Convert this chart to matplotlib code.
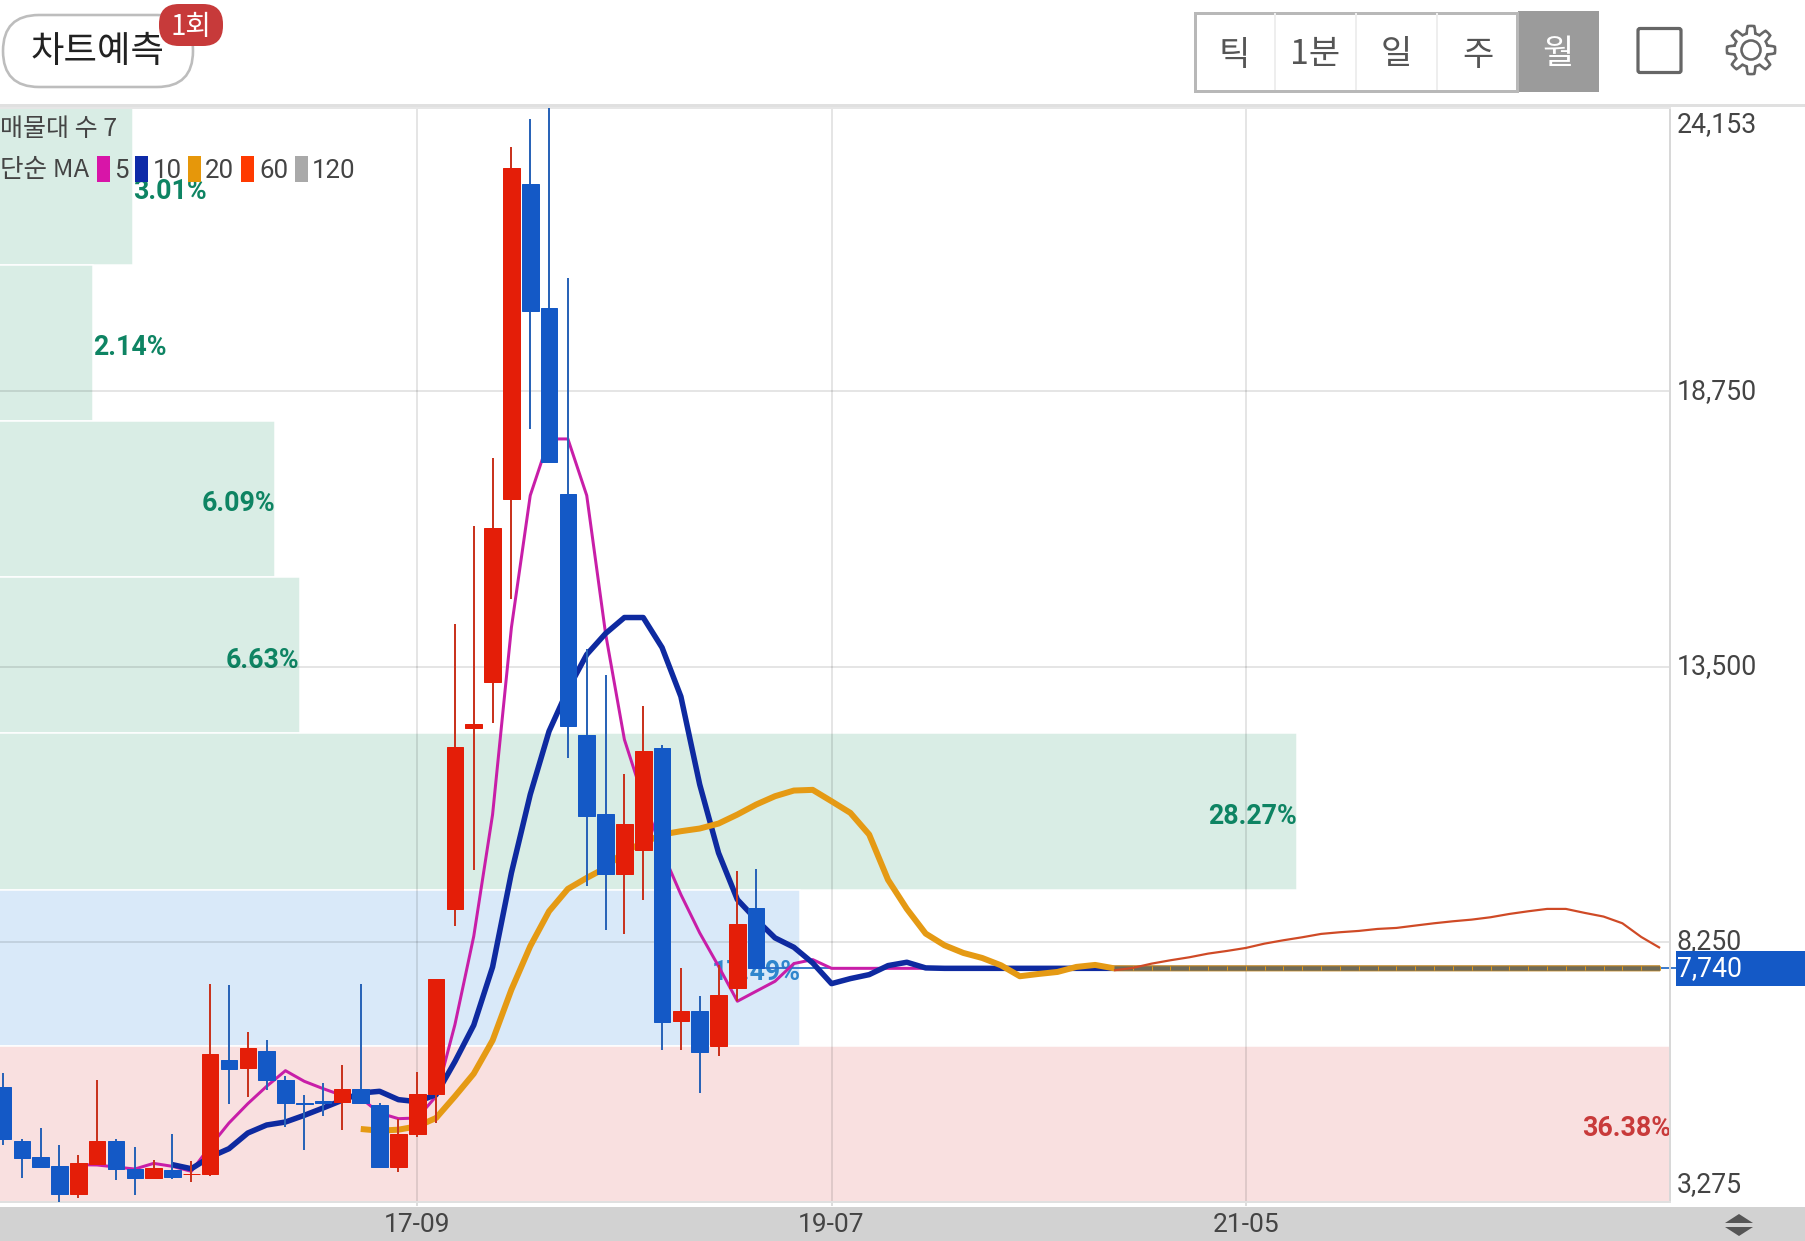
import numpy as np
import matplotlib
matplotlib.use("Agg")
import matplotlib.pyplot as plt
from matplotlib.patches import Rectangle, FancyBboxPatch, Polygon, Circle

KR = ['Noto Sans CJK KR', 'DejaVu Sans']
plt.rcParams['font.family'] = ['Roboto', 'Noto Sans CJK KR', 'DejaVu Sans']

# ---------- data ----------
HIGH = [5743, 4489, 4693, 4368, 4171, 5609, 4489, 4330, 4082, 4585, 4056, 7448, 7416, 6532, 6379, 5679, 5323, 5558, 5902, 7442,
        5164, 4871, 5755, 7537, 14302, 16191, 17470, 23411, 23944, 24153, 20905, 13840, 13343, 11445, 12743, 11998, 7748, 7220, 7812, 9600, 9638]
LOW = [4375, 3745, 3948, 3274, 3363, 4012, 3700, 3407, 3713, 3713, 3662, 3770, 5157, 5285, 5425, 4712, 4273, 4922, 4661, 5176,
       3936, 3853, 4515, 4788, 8543, 9625, 12431, 14790, 18026, 17406, 11757, 9320, 8467, 8403, 9040, 6189, 6189, 5362, 6075, 7112, 7742]
OPEN = [5482, 4445, 4146, 3974, 3439, 4012, 4438, 3917, 3738, 3897, 3808, 3815, 5991, 5832, 6163, 5615, 5176, 5202, 5195, 5437,
        5138, 3955, 4578, 5342, 8874, 12329, 13213, 16690, 22716, 20342, 16799, 12196, 10694, 9549, 10007, 11948, 6730, 6934, 6259, 7360, 8887]
CLOSE = [4483, 4120, 3948, 3439, 4025, 4438, 3917, 3738, 3923, 3757, 3821, 6112, 5825, 6220, 5615, 5176, 5157, 5176, 5437, 5176,
         3955, 4585, 5335, 7537, 11960, 12412, 16142, 23008, 20290, 17406, 12360, 10656, 9549, 10497, 11897, 6711, 6927, 6151, 7226, 8588, 7742]

MA5_START = 4
MA5 = [3993, 3987, 3948, 3910, 4018, 3961, 3866, 4343, 4788, 5157, 5488, 5787, 5584, 5444, 5316, 5265, 4979, 4871, 4884, 5297,
       6666, 8352, 10675, 14244, 16764, 17843, 17843, 16764, 14130, 12107, 10993, 9975, 9148, 8416, 7780, 7112, 7303, 7493, 7831, 7907, 7740,
       7740, 7740, 7740, 7740, 7740, 7740, 7740, 7740, 7740, 7740, 7740, 7740, 7740, 7740, 7740, 7740, 7740, 7740, 7740, 7740, 7740, 7740,
       7740, 7740, 7740, 7740, 7740, 7740, 7740, 7740, 7740, 7740, 7740, 7740, 7740, 7740, 7740, 7740, 7740, 7740, 7740, 7740, 7740, 7740]
MA10_START = 9
MA10 = [3993, 3916, 4139, 4298, 4597, 4750, 4807, 4935, 5075, 5221, 5361, 5393, 5234, 5195, 5329,
        5960, 6655, 7765, 9561, 11057, 12266, 13061, 13729, 14130, 14435, 14435, 13862, 12927, 11248, 9943, 9052, 8671, 8321, 8142, 7843,
        7448, 7544, 7620, 7792, 7856, 7748,
        7740, 7740, 7740, 7740, 7740, 7740, 7740, 7740, 7740, 7740, 7740, 7740, 7740, 7740, 7740, 7740, 7740, 7740, 7740, 7740,
        7740, 7740, 7740, 7740, 7740, 7740, 7740, 7740, 7740, 7740, 7740, 7740, 7740, 7740, 7740, 7740, 7740, 7740, 7740]
MA20_START = 19
MA20 = [4674, 4642, 4661, 4725, 4884, 5297, 5730, 6365, 7334, 8162, 8830, 9256, 9466, 9657, 9975, 10134, 10293, 10357, 10408, 10503,
        10675, 10866, 11025, 11133, 11146, 10929, 10707, 10293, 9430, 8874, 8403, 8180, 8034, 7938, 7798, 7589, 7633, 7671, 7767, 7805, 7741,
        7740, 7740, 7740, 7740, 7740, 7740, 7740, 7740, 7740, 7740, 7740, 7740, 7740, 7740, 7740,
        7740, 7740, 7740, 7740, 7740, 7740, 7740, 7740, 7740, 7740, 7740, 7740, 7740, 7740]
MA60_START = 59
MA60 = [7703, 7748, 7830, 7894, 7951, 8021, 8072, 8129, 8212, 8276, 8333, 8397, 8429, 8454, 8492,
        8511, 8556, 8600, 8638, 8670, 8715, 8778, 8829, 8874, 8874, 8798, 8728, 8600, 8339, 8129]
MA120_START = 59
MA120 = [7740, 7740, 7740, 7740, 7740, 7740, 7740, 7740, 7740, 7740, 7740, 7740, 7740, 7740, 7740,
         7740, 7740, 7740, 7740, 7740, 7740, 7740, 7740, 7740, 7740, 7740, 7740, 7740, 7740, 7740]
LAST_PRICE = 7740

VP_PCT = [3.01, 2.14, 6.09, 6.63, 28.27, 17.49, 36.38]
VP_KIND = ['g', 'g', 'g', 'g', 'g', 'b', 'r']
YTICKS = [18750, 13500, 8250]
YLABELS = [(24153, '24,153', -16), (18750, '18,750', 0), (13500, '13,500', 0), (8250, '8,250', 0), (3275, '3,275', 18)]
XTICKS = [22, 44, 66]
XLABELS = ['17-09', '19-07', '21-05']
BUTTONS = ['틱', '1분', '일', '주', '월']
MA_LEGEND = ['5', '10', '20', '60', '120']

# ---------- style ----------
W, H = 1806, 1241
PX = 0.72
RED, BLUE = '#e41e08', '#1459c6'
RED_W, BLUE_W = '#c9341f', '#2a64b8'
C_MA5, C_MA10, C_MA20, C_MA60, C_MA120 = '#c81ea8', '#0e2aa0', '#e59a14', '#cf4a26', '#6e6a58'
VP_FILL = {'g': '#d9ede5', 'b': '#d9e9f9', 'r': '#f9e0e0'}
VP_TEXT = {'g': '#0e8463', 'b': '#2f86cd', 'r': '#c83a3a'}
TXT = '#444444'

fig = plt.figure(figsize=(W / 100, H / 100), dpi=100, facecolor='white')
rect = [0, (H - 1202.3) / H, 1670 / W, (1202.3 - 108.3) / H]


def overlay(z):
    a = fig.add_axes([0, 0, 1, 1], zorder=z)
    a.set_xlim(0, W)
    a.set_ylim(H, 0)
    a.axis('off')
    a.patch.set_alpha(0)
    return a


bg = overlay(-1)
bg.add_patch(Rectangle((0, 1207), W, H - 1207, fc='#d2d2d2', ec='none'))
bg.add_patch(Rectangle((0, 104), W, 3, fc='#e0e0e0', ec='none'))

# volume profile
ax_vp = fig.add_axes(rect, zorder=0)
ax_vp.set_xlim(0.13, 36.356)
ax_vp.set_ylim(3275, 24153)
ax_vp.axis('off')
edges = np.linspace(24153, 3275, len(VP_PCT) + 1)
for i, (p, k) in enumerate(zip(VP_PCT, VP_KIND)):
    top, bot = edges[i], edges[i + 1]
    ax_vp.barh((top + bot) / 2, p, height=top - bot, left=0, color=VP_FILL[k], edgecolor='white', linewidth=1.5 * PX, zorder=1)
    inside = p > 5
    ax_vp.text(p, (top + bot) / 2 - 90, f'{p:.2f}%', ha='right' if inside else 'left', va='center',
               color=VP_TEXT[k], fontsize=19.3, fontweight='bold', family='Roboto', zorder=2)

# main chart
ax = fig.add_axes(rect, zorder=1)
ax.patch.set_alpha(0)
ax.set_xlim((0 - 3) / 18.83, (1670 - 3) / 18.83)
ax.set_ylim(3275, 24153)
ax.set_yticks(YTICKS)
ax.set_xticks(XTICKS)
ax.set_xticklabels(XLABELS, fontsize=19, color=TXT, family='Roboto')
ax.set_yticklabels([])
ax.tick_params(axis='y', length=0)
ax.tick_params(axis='x', length=3, width=2 * PX, color='#dddddd', pad=4.5)
ax.grid(True, color='black', alpha=0.1, linewidth=2 * PX, zorder=0)
ax.set_axisbelow(True)
for s, c in (('top', '#e6e6e6'), ('bottom', '#e0e0e0'), ('right', '#d8d8d8')):
    ax.spines[s].set_color(c)
    ax.spines[s].set_linewidth(2 * PX)
ax.spines['left'].set_visible(False)

# current price line
ax.plot([len(OPEN) - 1, 88.9], [LAST_PRICE, LAST_PRICE], color='#2a6fc8', lw=1.8 * PX, zorder=2, clip_on=False)


def line(start, vals, color, lw, z):
    xs = start + np.arange(len(vals))
    ax.plot(xs, vals, color=color, lw=lw * PX, zorder=z, solid_joinstyle='round', solid_capstyle='butt')


line(MA5_START, MA5, C_MA5, 3, 3)
line(MA10_START, MA10, C_MA10, 5.5, 3.1)
line(MA20_START, MA20, C_MA20, 6, 3.2)
line(MA120_START, MA120, C_MA120, 4.5, 3.3)
ax.plot(MA120_START + np.arange(1, len(MA120)), MA120[1:], ls='none', marker='|', ms=4 * PX, mew=1 * PX,
        color=C_MA20, zorder=3.35)
line(MA60_START, MA60, C_MA60, 2.2, 3.4)

# candles
xs = np.arange(len(OPEN))
o, c, h, l = map(np.array, (OPEN, CLOSE, HIGH, LOW))
up = c >= o
ax.vlines(xs[up], l[up], h[up], color=RED_W, lw=2 * PX, zorder=4)
ax.vlines(xs[~up], l[~up], h[~up], color=BLUE_W, lw=2 * PX, zorder=4)
ax.bar(xs[up], (c - o)[up], bottom=o[up], width=0.88, color=RED, edgecolor=RED, linewidth=1 * PX, zorder=4.1)
ax.bar(xs[~up], (o - c)[~up], bottom=c[~up], width=0.88, color=BLUE, edgecolor=BLUE, linewidth=1 * PX, zorder=4.1)

# y labels
for val, lab, off in YLABELS:
    ax.annotate(lab, xy=(1, val), xycoords=('axes fraction', 'data'), xytext=(7 * PX, off * PX),
                textcoords='offset points', ha='left', va='center', fontsize=19.2, color=TXT,
                family='Roboto', annotation_clip=False)

# ---------- chrome ----------
fr = overlay(5)
fr.add_patch(Rectangle((1676, 951), W - 1676, 35, fc=BLUE, ec='none'))
fr.text(1677, 969, f'{LAST_PRICE:,}', color='white', fontsize=19.2, va='center', ha='left', family='Roboto')

fr.add_patch(FancyBboxPatch((3, 15), 190, 72, boxstyle='round,pad=0,rounding_size=36', fc='white', ec='#bdbdbd', lw=2.6 * PX))
fr.text(98, 52, '차트예측', family=KR, fontsize=26.2, color='#222222', ha='center', va='center')
fr.add_patch(FancyBboxPatch((159, 4), 64, 42, boxstyle='round,pad=0,rounding_size=20', fc='#c73a3a', ec='none'))
fr.text(191, 27, '1회', family=KR, fontsize=20, color='white', ha='center', va='center')

bx0, bw = 1194, 81
fr.add_patch(Rectangle((bx0, 12), 5 * bw, 79, fc='white', ec='none'))
fr.add_patch(Rectangle((bx0 + 4 * bw, 11), bw, 81, fc='#9b9b9b', ec='none'))
for i in range(1, 4):
    fr.plot([bx0 + i * bw] * 2, [14, 89], color='#eeeeee', lw=2 * PX)
fr.add_patch(Rectangle((bx0 + 1, 12.5), 4 * bw - 2, 78, fc='none', ec='#b8b8b8', lw=3 * PX))
for i, b in enumerate(BUTTONS):
    fr.text(bx0 + (i + 0.5) * bw, 55, b, family=KR, fontsize=24.5, color='white' if i == 4 else '#555555',
            ha='center', va='center')

fr.add_patch(FancyBboxPatch((1638, 28.5), 43, 44, boxstyle='round,pad=0,rounding_size=2', fc='white', ec='#666666', lw=3.2 * PX))

th = np.linspace(0, 2 * np.pi, 720)
rad = 20.5 + 3.6 * np.clip(2.2 * np.cos(8 * th), -1, 1)
fr.add_patch(Polygon(np.c_[1751 + rad * np.sin(th), 50 + rad * np.cos(th)], closed=True, fc='white', ec='#666666', lw=2.6 * PX))
fr.add_patch(Circle((1751, 50), 9.5, fc='white', ec='#666666', lw=2.6 * PX))

fr.text(0, 129, '매물대 수 7', family=KR, fontsize=18, color=TXT, ha='left', va='center')
fr.text(0, 170, '단순 MA', family=KR, fontsize=18.4, color=TXT, ha='left', va='center')
swatch_x = [97, 135, 188, 241, 295]
label_x = [114, 153, 205, 259, 312]
swatch_c = ['#d815a8', '#0e2aa8', '#e6970a', '#ff3a00', '#a9a9a9']
for sx, lx, sc, t in zip(swatch_x, label_x, swatch_c, MA_LEGEND):
    fr.add_patch(Rectangle((sx, 156), 13, 26, fc=sc, ec='none'))
    fr.text(lx, 171, t, fontsize=18.6, color=TXT, ha='left', va='center', family='Roboto')

fr.add_patch(Polygon([[1725, 1223], [1753, 1223], [1739, 1214]], closed=True, fc='#555555', ec='none'))
fr.add_patch(Polygon([[1725, 1227], [1753, 1227], [1739, 1236]], closed=True, fc='#555555', ec='none'))

fig.savefig('out.png', dpi=100)
